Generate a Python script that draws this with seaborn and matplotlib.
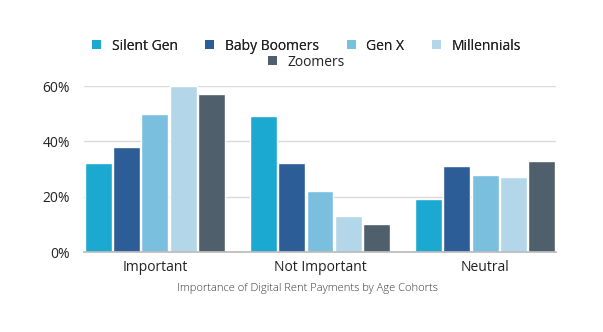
import matplotlib
matplotlib.use("Agg")
import matplotlib.pyplot as plt
import seaborn as sns
import pandas as pd
from matplotlib.patches import Patch
from matplotlib.ticker import FuncFormatter

categories = ["Important", "Not Important", "Neutral"]
cohorts = ["Silent Gen", "Baby Boomers", "Gen X", "Millennials", "Zoomers"]
silent_gen = [32, 49, 19]
baby_boomers = [38, 32, 31]
gen_x = [50, 22, 28]
millennials = [60, 13, 27]
zoomers = [57, 10, 33]
colors = ["#1ba8d1", "#2c5d96", "#7bbfdf", "#b3d6e8", "#4f5f6b"]
caption = "Importance of Digital Rent Payments by Age Cohorts"

series = [silent_gen, baby_boomers, gen_x, millennials, zoomers]
rows = []
for name, vals in zip(cohorts, series):
    for c, v in zip(categories, vals):
        rows.append({"Category": c, "Cohort": name, "Value": v})
df = pd.DataFrame(rows)

sns.set_theme(style="white")
plt.rcParams["font.family"] = ["Open Sans", "DejaVu Sans"]

fig = plt.figure(figsize=(6.03, 3.32), dpi=100)
ax = fig.add_axes([84 / 603, 1 - 252 / 332, (556 - 84) / 603, (252 - 86) / 332])

sns.barplot(data=df, x="Category", y="Value", hue="Cohort", hue_order=cohorts,
            order=categories, palette=colors, width=0.86, gap=0.05,
            saturation=1, ax=ax, legend=False)

ax.set_xlim(-0.43, 2.43)
ax.set_ylim(0, 60)
ax.set_yticks([0, 20, 40, 60])
ax.yaxis.set_major_formatter(FuncFormatter(lambda v, p: f"{int(v)}%"))
ax.grid(axis="y", color="#d9d9d9", linewidth=1)
ax.set_axisbelow(True)
for s in ["top", "right", "left"]:
    ax.spines[s].set_visible(False)
ax.spines["bottom"].set_color("#bbbbbb")
ax.tick_params(axis="both", length=0)
ax.tick_params(axis="y", labelsize=10, colors="#222222", pad=10)
ax.tick_params(axis="x", labelsize=10, colors="#222222", pad=6)
ax.set_xlabel("")
ax.set_ylabel("")

handles = [Patch(facecolor=c, edgecolor="none") for c in colors]
leg1 = fig.legend(handles[:4], cohorts[:4], loc="center", bbox_to_anchor=(0.508, 1 - 46 / 332),
                  ncol=4, frameon=False, fontsize=10, handlelength=0.65, handleheight=0.65,
                  handletextpad=0.75, columnspacing=2.0, labelcolor="#222222")
fig.add_artist(leg1)
fig.legend(handles[4:], cohorts[4:], loc="center", bbox_to_anchor=(0.508, 1 - 62 / 332),
           ncol=1, frameon=False, fontsize=10, handlelength=0.65, handleheight=0.65,
           handletextpad=0.75, labelcolor="#222222")

fig.text(0.51, 1 - 289 / 332, caption, ha="center", va="center", fontsize=8,
         color="#333333", fontweight="light")

fig.savefig("out.png", dpi=100)
